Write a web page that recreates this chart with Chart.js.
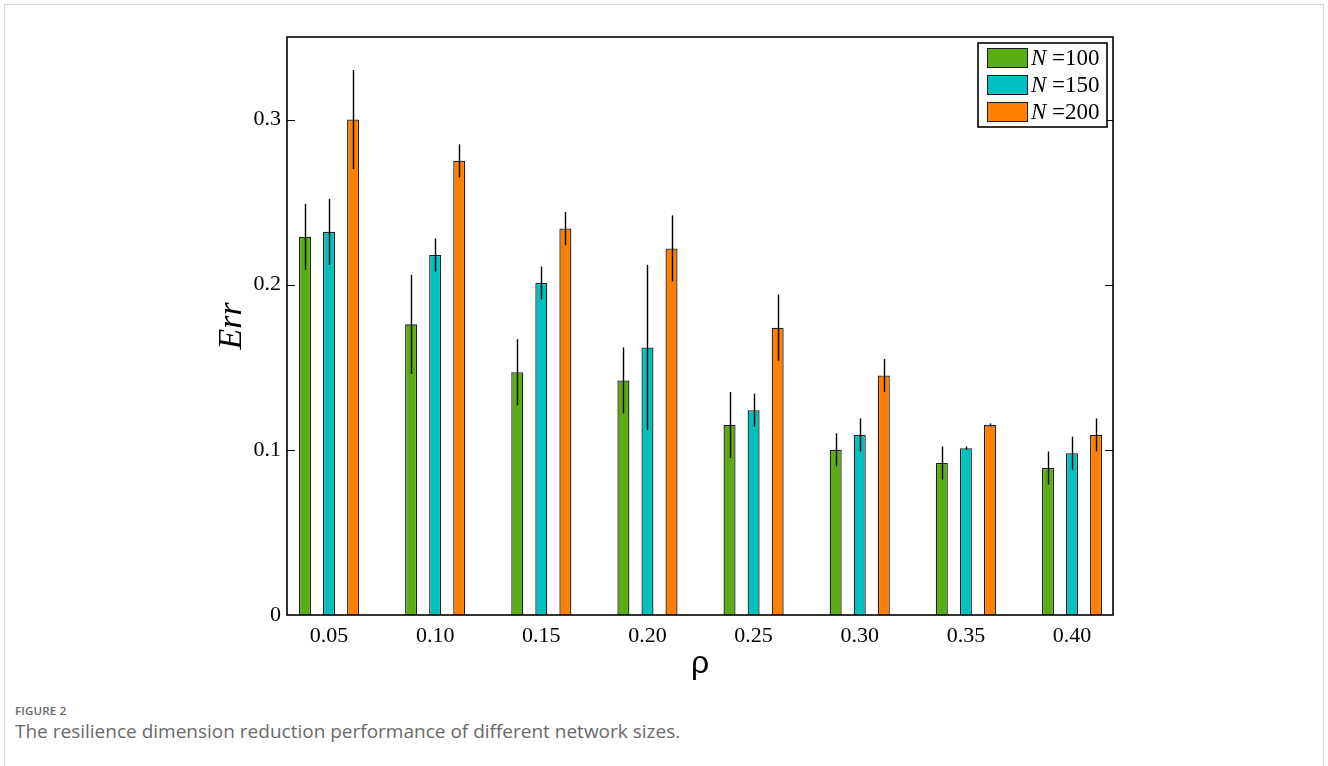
<!DOCTYPE html>
<html>
<head>
<meta charset="utf-8">
<title>FIGURE 2</title>
<script src="https://cdn.jsdelivr.net/npm/chart.js@4/dist/chart.umd.min.js"></script>
<style>
  html, body { margin: 0; padding: 0; background: #fff; }
  body { width: 1328px; height: 766px; position: relative; overflow: hidden; }
  #card { position: absolute; left: 4px; top: 4px; width: 1320px; height: 820px;
          border: 1px solid #d8d8d8; border-bottom: none; box-sizing: border-box; }
  #plot { position: absolute; left: 0; top: 0; width: 1328px; height: 700px; }
  #figno { position: absolute; left: 15px; top: 703px; font-family: "Open Sans", sans-serif;
           font-size: 11.5px; font-weight: 600; color: #666; letter-spacing: 0.2px; }
  #caption { position: absolute; left: 15px; top: 718px; font-family: "Open Sans", sans-serif;
             font-size: 19px; color: #6a6a6a; }
</style>
</head>
<body>
<div id="card"></div>
<div id="plot"><canvas id="chart"></canvas></div>
<div id="figno">FIGURE 2</div>
<div id="caption">The resilience dimension reduction performance of different network sizes.</div>
<script>
// Edge density values and their axis labels
const rho = [0.05, 0.10, 0.15, 0.20, 0.25, 0.30, 0.35, 0.40];
const rhoLabels = ['0.05', '0.10', '0.15', '0.20', '0.25', '0.30', '0.35', '0.40'];

// Network sizes
const sizes = [100, 150, 200];

// Mean error per network size
const err100 = [0.229, 0.176, 0.147, 0.142, 0.115, 0.100, 0.092, 0.089];
const err150 = [0.232, 0.218, 0.201, 0.162, 0.124, 0.109, 0.101, 0.098];
const err200 = [0.300, 0.275, 0.234, 0.222, 0.174, 0.145, 0.115, 0.109];

// Error bar half-lengths per network size
const sd100 = [0.020, 0.030, 0.020, 0.020, 0.020, 0.010, 0.010, 0.010];
const sd150 = [0.020, 0.010, 0.010, 0.050, 0.010, 0.010, 0.001, 0.010];
const sd200 = [0.030, 0.010, 0.010, 0.020, 0.020, 0.010, 0.001, 0.010];

// Y axis ticks
const yTicks = [0, 0.1, 0.2, 0.3];
const yTickLabels = ['0', '0.1', '0.2', '0.3'];

const colors = ['#5aad14', '#00c0c0', '#ff8000'];
const means = [err100, err150, err200];
const spreads = [sd100, sd150, sd200];

const datasets = sizes.map((n, k) => ({
  label: 'N =' + n,
  sizeValue: n,
  data: rho.map((x, i) => ({ x: x, y: means[k][i] })),
  spread: spreads[k],
  backgroundColor: colors[k],
  borderColor: '#1e1e1e',
  borderWidth: 1.3,
  categoryPercentage: 0.68,
  barPercentage: 0.5
}));

// Vertical error bars without caps
const errorBars = {
  id: 'errorBars',
  afterDatasetsDraw(chart) {
    const ctx = chart.ctx;
    const ys = chart.scales.y;
    ctx.save();
    ctx.strokeStyle = '#000';
    ctx.lineWidth = 1.4;
    chart.data.datasets.forEach((ds, k) => {
      const meta = chart.getDatasetMeta(k);
      meta.data.forEach((bar, i) => {
        const v = ds.data[i].y, e = ds.spread[i];
        const x = Math.round(bar.x) + 0.5;
        ctx.beginPath();
        ctx.moveTo(x, ys.getPixelForValue(v + e));
        ctx.lineTo(x, ys.getPixelForValue(v - e));
        ctx.stroke();
      });
    });
    ctx.restore();
  }
};

// Box frame, inward ticks on both sides, boxed legend
const frame = {
  id: 'frame',
  afterDraw(chart) {
    const ctx = chart.ctx;
    const a = chart.chartArea;
    const ys = chart.scales.y;
    ctx.save();
    ctx.strokeStyle = '#000';
    ctx.lineWidth = 1.6;
    ctx.strokeRect(a.left, a.top, a.right - a.left, a.bottom - a.top);

    ctx.lineWidth = 1.2;
    yTicks.forEach(v => {
      if (v === 0) return;
      const y = Math.round(ys.getPixelForValue(v)) + 0.5;
      ctx.beginPath();
      ctx.moveTo(a.left, y); ctx.lineTo(a.left + 8, y);
      ctx.moveTo(a.right, y); ctx.lineTo(a.right - 8, y);
      ctx.stroke();
    });

    // legend
    const bx = a.right - 135, by = a.top + 6, bw = 129, bh = 84;
    ctx.fillStyle = '#fff';
    ctx.fillRect(bx, by, bw, bh);
    ctx.lineWidth = 1.6;
    ctx.strokeRect(bx, by, bw, bh);
    chart.data.datasets.forEach((ds, k) => {
      const sy = by + 5 + k * 27;
      ctx.fillStyle = ds.backgroundColor;
      ctx.fillRect(bx + 9, sy, 41, 20);
      ctx.lineWidth = 1;
      ctx.strokeStyle = '#1e1e1e';
      ctx.strokeRect(bx + 9.5, sy + 0.5, 40, 19);
      ctx.fillStyle = '#000';
      ctx.textBaseline = 'middle';
      ctx.textAlign = 'left';
      ctx.font = 'italic 23px "Liberation Serif"';
      const tx = bx + 53, ty = sy + 11;
      ctx.fillText('N', tx, ty);
      const w = ctx.measureText('N').width;
      ctx.font = '23px "Liberation Serif"';
      ctx.fillText(' =' + ds.sizeValue, tx + w, ty);
    });
    ctx.restore();
  }
};

new Chart(document.getElementById('chart'), {
  type: 'bar',
  data: { datasets: datasets },
  plugins: [errorBars, frame],
  options: {
    responsive: true,
    maintainAspectRatio: false,
    animation: false,
    layout: { padding: { left: 197, right: 215, top: 37, bottom: 5 } },
    plugins: { legend: { display: false }, tooltip: { enabled: false } },
    scales: {
      x: {
        type: 'linear',
        offset: false,
        min: 0.0302,
        max: 0.4193,
        grid: { display: false, drawTicks: false, offset: false },
        border: { display: false },
        afterBuildTicks(scale) { scale.ticks = rho.map(v => ({ value: v })); },
        afterFit(scale) { scale.height = 80; },
        ticks: {
          autoSkip: false,
          maxRotation: 0,
          padding: 8,
          color: '#000',
          font: { family: 'Liberation Serif', size: 22 },
          callback: (v, i) => rhoLabels[i]
        },
        title: {
          display: true,
          text: 'ρ',
          color: '#000',
          font: { family: 'Liberation Sans', size: 32 },
          padding: { top: 0, bottom: 12 }
        }
      },
      y: {
        min: 0,
        max: 0.35,
        grid: { display: false, drawTicks: false },
        border: { display: false },
        afterBuildTicks(scale) { scale.ticks = yTicks.map(v => ({ value: v })); },
        afterFit(scale) { scale.width = 90; },
        ticks: {
          padding: 6,
          color: '#000',
          font: { family: 'Liberation Serif', size: 22 },
          callback: (v, i) => yTickLabels[i]
        },
        title: {
          display: true,
          text: 'Err',
          color: '#000',
          font: { family: 'Liberation Serif', size: 34, style: 'italic' },
          padding: { top: 15, bottom: 0 }
        }
      }
    }
  }
});
</script>
</body>
</html>
